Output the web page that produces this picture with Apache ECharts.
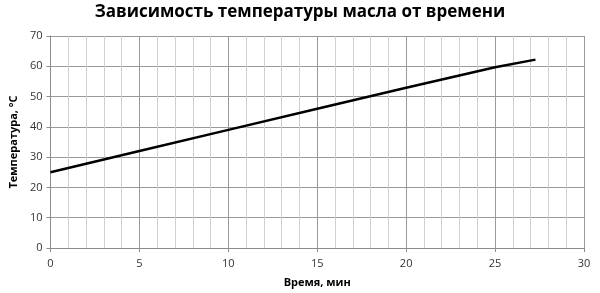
<!DOCTYPE html>
<html>
<head>
<meta charset="utf-8">
<script src="https://cdn.jsdelivr.net/npm/echarts@6/dist/echarts.min.js"></script>
<style>html,body{margin:0;padding:0;background:#fff}#c{width:600px;height:293px}</style>
</head>
<body>
<div id="c"></div>
<script>
const titleText = 'Зависимость температуры масла от времени';
const xName = 'Время, мин';
const yName = 'Температура, °С';
const timeMin = [0, 5, 10, 15, 20, 25, 27.27];
const tempC = [25, 32, 39, 46, 52.9, 59.7, 62.2];

const chart = echarts.init(document.getElementById('c'), null, {renderer: 'canvas'});
const font = 'Open Sans';
chart.setOption({
  animation: false,
  backgroundColor: '#fff',
  title: {
    text: titleText, left: 'center', top: -1,
    textStyle: {fontFamily: font, fontWeight: 'bold', fontSize: 17, color: '#000'}
  },
  grid: {left: 48, right: 16, top: 36, bottom: 44},
  xAxis: {
    type: 'value', min: 0, max: 30, interval: 5,
    name: xName, nameLocation: 'middle', nameGap: 29,
    nameTextStyle: {fontFamily: font, fontWeight: 'bold', fontSize: 11, color: '#000'},
    axisLine: {show: true, onZero: false, lineStyle: {color: '#8c8c8c', width: 1}},
    axisTick: {show: true, inside: false, length: 4, lineStyle: {color: '#8c8c8c'}},
    axisLabel: {fontFamily: font, fontSize: 11, color: '#333', margin: 10},
    splitLine: {show: true, lineStyle: {color: '#999', width: 1}},
    minorTick: {show: false, splitNumber: 5},
    minorSplitLine: {show: true, lineStyle: {color: '#cfcfcf', width: 1}}
  },
  yAxis: {
    type: 'value', min: 0, max: 70, interval: 10,
    name: yName, nameLocation: 'middle', nameGap: 30, nameRotate: 90,
    nameTextStyle: {fontFamily: font, fontWeight: 'bold', fontSize: 11, color: '#000'},
    axisLine: {show: true, lineStyle: {color: '#8c8c8c', width: 1}},
    axisTick: {show: true, inside: false, length: 4, lineStyle: {color: '#8c8c8c'}},
    axisLabel: {fontFamily: font, fontSize: 11, color: '#333', margin: 8},
    splitLine: {show: true, lineStyle: {color: '#999', width: 1}}
  },
  series: [{
    type: 'line',
    data: timeMin.map((t, i) => [t, tempC[i]]),
    showSymbol: false, symbol: 'none',
    lineStyle: {color: '#000', width: 2.5},
    smooth: false
  }]
});
</script>
</body>
</html>
